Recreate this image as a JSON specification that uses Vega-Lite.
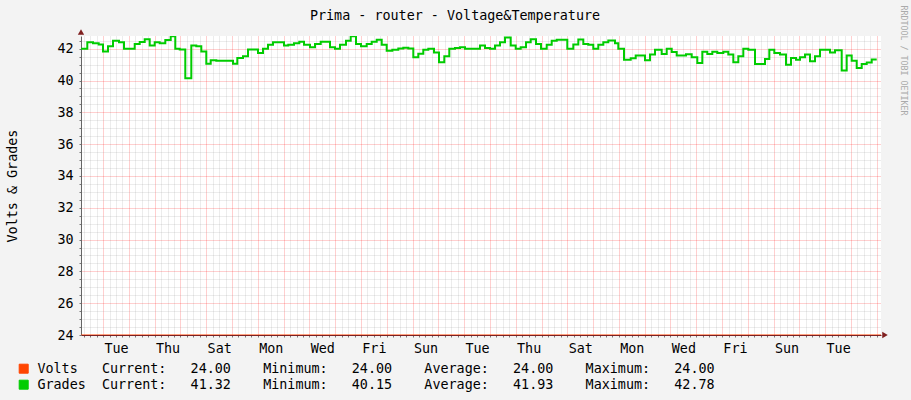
{
  "$schema": "https://vega.github.io/schema/vega-lite/v6.json",
  "width": 800,
  "height": 299,
  "autosize": {"type": "none"},
  "padding": {"left": 81, "top": 36, "right": 30, "bottom": 65},
  "background": "#F3F3F3",
  "title": {
    "text": "Prima - router - Voltage&Temperature",
    "anchor": "middle",
    "frame": "group",
    "dx": -26,
    "dy": 28,
    "baseline": "alphabetic",
    "offset": 0,
    "font": "DejaVu Sans Mono",
    "fontSize": 13.4,
    "fontWeight": "normal",
    "color": "#000000"
  },
  "config": {
    "view": {"fill": "white", "stroke": null},
    "axis": {
      "labelFont": "DejaVu Sans Mono",
      "labelFontSize": 13.4,
      "labelColor": "#000000",
      "titleFont": "DejaVu Sans Mono",
      "titleFontSize": 13.4,
      "titleFontWeight": "normal",
      "titleColor": "#000000"
    }
  },
  "datasets": {
    "volts": [
      {"time": "2024-01-01T03:26", "value": 24.0, "series": "Volts"},
      {"time": "2024-02-01T03:54", "value": 24.0, "series": "Volts"}
    ],
    "grades": [
      {"time": "2024-01-01T03:26", "value": 42.0, "series": "Grades"},
      {"time": "2024-01-01T09:18", "value": 42.4, "series": "Grades"},
      {"time": "2024-01-01T14:36", "value": 42.35, "series": "Grades"},
      {"time": "2024-01-01T19:54", "value": 42.27, "series": "Grades"},
      {"time": "2024-01-01T23:54", "value": 41.83, "series": "Grades"},
      {"time": "2024-01-02T04:34", "value": 42.15, "series": "Grades"},
      {"time": "2024-01-02T09:13", "value": 42.5, "series": "Grades"},
      {"time": "2024-01-02T14:48", "value": 42.4, "series": "Grades"},
      {"time": "2024-01-02T19:27", "value": 42.0, "series": "Grades"},
      {"time": "2024-01-03T05:25", "value": 42.3, "series": "Grades"},
      {"time": "2024-01-03T10:04", "value": 42.42, "series": "Grades"},
      {"time": "2024-01-03T14:43", "value": 42.6, "series": "Grades"},
      {"time": "2024-01-03T19:22", "value": 42.2, "series": "Grades"},
      {"time": "2024-01-04T00:01", "value": 42.4, "series": "Grades"},
      {"time": "2024-01-04T04:40", "value": 42.35, "series": "Grades"},
      {"time": "2024-01-04T09:53", "value": 42.55, "series": "Grades"},
      {"time": "2024-01-04T14:55", "value": 42.78, "series": "Grades"},
      {"time": "2024-01-04T19:11", "value": 42.0, "series": "Grades"},
      {"time": "2024-01-04T23:17", "value": 41.95, "series": "Grades"},
      {"time": "2024-01-05T04:29", "value": 40.15, "series": "Grades"},
      {"time": "2024-01-05T10:05", "value": 42.2, "series": "Grades"},
      {"time": "2024-01-05T14:44", "value": 42.15, "series": "Grades"},
      {"time": "2024-01-05T19:23", "value": 41.83, "series": "Grades"},
      {"time": "2024-01-06T00:02", "value": 41.05, "series": "Grades"},
      {"time": "2024-01-06T04:08", "value": 41.27, "series": "Grades"},
      {"time": "2024-01-06T09:20", "value": 41.25, "series": "Grades"},
      {"time": "2024-01-07T00:53", "value": 41.05, "series": "Grades"},
      {"time": "2024-01-07T04:53", "value": 41.42, "series": "Grades"},
      {"time": "2024-01-07T10:11", "value": 41.52, "series": "Grades"},
      {"time": "2024-01-07T14:50", "value": 41.95, "series": "Grades"},
      {"time": "2024-01-08T00:09", "value": 41.73, "series": "Grades"},
      {"time": "2024-01-08T04:48", "value": 42.0, "series": "Grades"},
      {"time": "2024-01-08T09:27", "value": 42.25, "series": "Grades"},
      {"time": "2024-01-08T14:07", "value": 42.4, "series": "Grades"},
      {"time": "2024-01-09T00:20", "value": 42.2, "series": "Grades"},
      {"time": "2024-01-09T04:20", "value": 42.25, "series": "Grades"},
      {"time": "2024-01-09T09:39", "value": 42.35, "series": "Grades"},
      {"time": "2024-01-09T14:35", "value": 42.44, "series": "Grades"},
      {"time": "2024-01-09T18:58", "value": 42.25, "series": "Grades"},
      {"time": "2024-01-10T00:32", "value": 42.1, "series": "Grades"},
      {"time": "2024-01-10T05:11", "value": 42.3, "series": "Grades"},
      {"time": "2024-01-10T10:30", "value": 42.44, "series": "Grades"},
      {"time": "2024-01-10T19:09", "value": 42.1, "series": "Grades"},
      {"time": "2024-01-10T23:48", "value": 42.0, "series": "Grades"},
      {"time": "2024-01-11T04:28", "value": 42.25, "series": "Grades"},
      {"time": "2024-01-11T10:02", "value": 42.5, "series": "Grades"},
      {"time": "2024-01-11T14:25", "value": 42.78, "series": "Grades"},
      {"time": "2024-01-11T19:20", "value": 42.3, "series": "Grades"},
      {"time": "2024-01-11T23:59", "value": 42.15, "series": "Grades"},
      {"time": "2024-01-12T05:18", "value": 42.3, "series": "Grades"},
      {"time": "2024-01-12T09:57", "value": 42.44, "series": "Grades"},
      {"time": "2024-01-12T14:37", "value": 42.56, "series": "Grades"},
      {"time": "2024-01-12T19:16", "value": 42.25, "series": "Grades"},
      {"time": "2024-01-12T23:55", "value": 41.88, "series": "Grades"},
      {"time": "2024-01-13T05:08", "value": 41.94, "series": "Grades"},
      {"time": "2024-01-13T10:43", "value": 42.02, "series": "Grades"},
      {"time": "2024-01-13T15:22", "value": 42.06, "series": "Grades"},
      {"time": "2024-01-13T20:01", "value": 42.02, "series": "Grades"},
      {"time": "2024-01-14T00:40", "value": 41.46, "series": "Grades"},
      {"time": "2024-01-14T05:19", "value": 41.69, "series": "Grades"},
      {"time": "2024-01-14T09:58", "value": 41.94, "series": "Grades"},
      {"time": "2024-01-14T14:38", "value": 42.0, "series": "Grades"},
      {"time": "2024-01-14T19:56", "value": 41.77, "series": "Grades"},
      {"time": "2024-01-15T00:35", "value": 41.15, "series": "Grades"},
      {"time": "2024-01-15T05:31", "value": 41.52, "series": "Grades"},
      {"time": "2024-01-15T10:10", "value": 42.0, "series": "Grades"},
      {"time": "2024-01-15T15:28", "value": 42.04, "series": "Grades"},
      {"time": "2024-01-15T20:08", "value": 42.1, "series": "Grades"},
      {"time": "2024-01-16T00:47", "value": 42.0, "series": "Grades"},
      {"time": "2024-01-16T14:44", "value": 42.2, "series": "Grades"},
      {"time": "2024-01-16T19:23", "value": 42.04, "series": "Grades"},
      {"time": "2024-01-17T00:02", "value": 42.0, "series": "Grades"},
      {"time": "2024-01-17T04:42", "value": 42.2, "series": "Grades"},
      {"time": "2024-01-17T09:21", "value": 42.4, "series": "Grades"},
      {"time": "2024-01-17T14:00", "value": 42.7, "series": "Grades"},
      {"time": "2024-01-17T19:19", "value": 42.2, "series": "Grades"},
      {"time": "2024-01-17T23:58", "value": 42.0, "series": "Grades"},
      {"time": "2024-01-18T04:37", "value": 42.1, "series": "Grades"},
      {"time": "2024-01-18T09:33", "value": 42.4, "series": "Grades"},
      {"time": "2024-01-18T13:55", "value": 42.6, "series": "Grades"},
      {"time": "2024-01-18T18:51", "value": 42.3, "series": "Grades"},
      {"time": "2024-01-18T23:30", "value": 42.0, "series": "Grades"},
      {"time": "2024-01-19T04:49", "value": 42.25, "series": "Grades"},
      {"time": "2024-01-19T09:28", "value": 42.5, "series": "Grades"},
      {"time": "2024-01-19T14:07", "value": 42.56, "series": "Grades"},
      {"time": "2024-01-19T23:59", "value": 42.0, "series": "Grades"},
      {"time": "2024-01-20T05:34", "value": 42.27, "series": "Grades"},
      {"time": "2024-01-20T10:13", "value": 42.58, "series": "Grades"},
      {"time": "2024-01-20T14:52", "value": 42.3, "series": "Grades"},
      {"time": "2024-01-20T19:31", "value": 42.25, "series": "Grades"},
      {"time": "2024-01-21T00:10", "value": 42.0, "series": "Grades"},
      {"time": "2024-01-21T04:50", "value": 42.25, "series": "Grades"},
      {"time": "2024-01-21T09:29", "value": 42.4, "series": "Grades"},
      {"time": "2024-01-21T14:08", "value": 42.52, "series": "Grades"},
      {"time": "2024-01-21T20:22", "value": 42.35, "series": "Grades"},
      {"time": "2024-01-21T23:26", "value": 42.0, "series": "Grades"},
      {"time": "2024-01-22T04:44", "value": 41.31, "series": "Grades"},
      {"time": "2024-01-22T10:59", "value": 41.4, "series": "Grades"},
      {"time": "2024-01-22T15:38", "value": 41.58, "series": "Grades"},
      {"time": "2024-01-23T00:17", "value": 41.27, "series": "Grades"},
      {"time": "2024-01-23T04:56", "value": 41.63, "series": "Grades"},
      {"time": "2024-01-23T09:35", "value": 41.94, "series": "Grades"},
      {"time": "2024-01-23T15:49", "value": 41.67, "series": "Grades"},
      {"time": "2024-01-23T20:29", "value": 42.0, "series": "Grades"},
      {"time": "2024-01-24T01:08", "value": 41.79, "series": "Grades"},
      {"time": "2024-01-24T05:47", "value": 41.58, "series": "Grades"},
      {"time": "2024-01-24T14:26", "value": 41.65, "series": "Grades"},
      {"time": "2024-01-24T19:44", "value": 41.46, "series": "Grades"},
      {"time": "2024-01-25T00:57", "value": 41.1, "series": "Grades"},
      {"time": "2024-01-25T05:37", "value": 41.81, "series": "Grades"},
      {"time": "2024-01-25T10:16", "value": 41.67, "series": "Grades"},
      {"time": "2024-01-25T14:55", "value": 41.81, "series": "Grades"},
      {"time": "2024-01-25T19:34", "value": 41.73, "series": "Grades"},
      {"time": "2024-01-26T01:09", "value": 41.81, "series": "Grades"},
      {"time": "2024-01-26T05:48", "value": 41.63, "series": "Grades"},
      {"time": "2024-01-26T10:28", "value": 41.15, "series": "Grades"},
      {"time": "2024-01-26T15:07", "value": 41.52, "series": "Grades"},
      {"time": "2024-01-26T19:46", "value": 42.0, "series": "Grades"},
      {"time": "2024-01-27T00:25", "value": 41.94, "series": "Grades"},
      {"time": "2024-01-27T06:39", "value": 41.04, "series": "Grades"},
      {"time": "2024-01-27T15:58", "value": 41.35, "series": "Grades"},
      {"time": "2024-01-27T19:58", "value": 41.94, "series": "Grades"},
      {"time": "2024-01-28T00:37", "value": 41.73, "series": "Grades"},
      {"time": "2024-01-28T05:55", "value": 41.63, "series": "Grades"},
      {"time": "2024-01-28T11:30", "value": 41.0, "series": "Grades"},
      {"time": "2024-01-28T16:10", "value": 41.42, "series": "Grades"},
      {"time": "2024-01-28T20:49", "value": 41.31, "series": "Grades"},
      {"time": "2024-01-29T00:32", "value": 41.46, "series": "Grades"},
      {"time": "2024-01-29T05:11", "value": 41.63, "series": "Grades"},
      {"time": "2024-01-29T09:50", "value": 41.21, "series": "Grades"},
      {"time": "2024-01-29T14:29", "value": 41.52, "series": "Grades"},
      {"time": "2024-01-29T19:08", "value": 41.94, "series": "Grades"},
      {"time": "2024-01-30T04:27", "value": 41.77, "series": "Grades"},
      {"time": "2024-01-30T09:06", "value": 41.9, "series": "Grades"},
      {"time": "2024-01-30T15:20", "value": 40.63, "series": "Grades"},
      {"time": "2024-01-30T19:59", "value": 41.58, "series": "Grades"},
      {"time": "2024-01-31T00:38", "value": 41.25, "series": "Grades"},
      {"time": "2024-01-31T05:18", "value": 40.79, "series": "Grades"},
      {"time": "2024-01-31T09:57", "value": 41.04, "series": "Grades"},
      {"time": "2024-01-31T14:36", "value": 41.13, "series": "Grades"},
      {"time": "2024-01-31T19:16", "value": 41.32, "series": "Grades"},
      {"time": "2024-01-31T23:55", "value": 41.32, "series": "Grades"}
    ],
    "ends": [
      {"time": "2024-01-01T03:26", "value": 42.8, "arrow": "up"},
      {"time": "2024-02-01T03:54", "value": 24.0, "arrow": "right"}
    ]
  },
  "layer": [
    {
      "data": {"name": "volts"},
      "mark": {"type": "line", "interpolate": "step-after", "strokeWidth": 1, "clip": true},
      "encoding": {
        "x": {"field": "time", "type": "temporal",
          "scale": {"domain": [{"year": 2024, "month": 1, "date": 1, "hours": 3, "minutes": 26}, {"year": 2024, "month": 2, "date": 1, "hours": 3, "minutes": 54}], "nice": false}},
        "y": {"field": "value", "type": "quantitative",
          "scale": {"domain": [24, 42.8], "nice": false, "zero": false}},
        "color": {"field": "series", "type": "nominal"}
      }
    },
    {
      "data": {"name": "grades"},
      "mark": {"type": "line", "interpolate": "step-after", "strokeWidth": 2, "clip": true},
      "encoding": {
        "x": {"field": "time", "type": "temporal",
          "axis": {
            "orient": "bottom",
            "title": "RRDTOOL / TOBI OETIKER",
            "titleFont": "DejaVu Sans Mono", "titleFontSize": 8.3, "titleFontWeight": "normal", "titleColor": "#AAAAAA",
            "titleAngle": 90, "titleAlign": "left", "titleBaseline": "alphabetic", "titleX": 819, "titleY": -330,
            "tickCount": 124,
            "grid": true,
            "gridColor": {"condition": {"test": "hours(datum.value) == 0", "value": "#FF0000"}, "value": "#8F8F8F"},
            "gridOpacity": {"condition": {"test": "hours(datum.value) == 0", "value": 0.38}, "value": 0.35},
            "gridDash": [1, 1],
            "ticks": true, "tickSize": 2, "tickColor": "#777777",
            "domain": true, "domainColor": "#7F1F1F", "domainWidth": 1,
            "labelExpr": "hours(datum.value) == 12 && date(datum.value) % 2 == 0 ? timeFormat(datum.value, '%a') : ''",
            "labelOverlap": false, "labelBound": false, "labelFlush": false,
            "labelPadding": 4, "labelAngle": 0, "labelAlign": "center"
          }},
        "y": {"field": "value", "type": "quantitative",
          "axis": {
            "orient": "left", "title": "Volts & Grades",
            "titleAngle": -90, "titleBaseline": "alphabetic", "titleX": -65, "titleY": 149.5, "titleAlign": "center",
            "values": [24, 24.5, 25, 25.5, 26, 26.5, 27, 27.5, 28, 28.5, 29, 29.5, 30, 30.5, 31, 31.5, 32, 32.5, 33, 33.5, 34, 34.5, 35, 35.5, 36, 36.5, 37, 37.5, 38, 38.5, 39, 39.5, 40, 40.5, 41, 41.5, 42, 42.5],
            "tickCount": 200,
            "grid": true,
            "gridColor": {"condition": {"test": "datum.value % 2 == 0", "value": "#FF0000"}, "value": "#8F8F8F"},
            "gridOpacity": {"condition": {"test": "datum.value % 2 == 0", "value": 0.38}, "value": 0.35},
            "gridDash": [1, 1],
            "ticks": true, "tickSize": 2, "tickColor": "#777777",
            "domain": true, "domainColor": "#666666", "domainWidth": 1,
            "labelExpr": "datum.value % 2 == 0 ? format(datum.value, 'd') : ''",
            "labelOverlap": false, "labelPadding": 6
          }},
        "color": {"field": "series", "type": "nominal", "scale": {"domain": ["Volts", "Grades"], "range": ["#FF4500", "#00CC00"]},
          "legend": {
            "orient": "none", "legendX": -64, "legendY": 326, "padding": 0, "title": null,
            "symbolType": "square", "symbolSize": 81, "symbolStrokeWidth": 1, "symbolStrokeColor": "#000000",
            "labelFont": "DejaVu Sans Mono", "labelFontSize": 13.4, "labelColor": "#000000", "labelLimit": 1000, "labelOffset": 7, "rowPadding": 1,
            "labelExpr": "datum.label == 'Volts' ? 'Volts\u00a0\u00a0\u00a0Current:\u00a0\u00a0\u00a024.00\u00a0\u00a0\u00a0\u00a0Minimum:\u00a0\u00a0\u00a024.00\u00a0\u00a0\u00a0\u00a0Average:\u00a0\u00a0\u00a024.00\u00a0\u00a0\u00a0\u00a0Maximum:\u00a0\u00a0\u00a024.00' : 'Grades\u00a0\u00a0Current:\u00a0\u00a0\u00a041.32\u00a0\u00a0\u00a0\u00a0Minimum:\u00a0\u00a0\u00a040.15\u00a0\u00a0\u00a0\u00a0Average:\u00a0\u00a0\u00a041.93\u00a0\u00a0\u00a0\u00a0Maximum:\u00a0\u00a0\u00a042.78'",
            "encode": {"symbols": {"update": {"fill": {"scale": "color", "field": "value"}, "stroke": {"value": "#000000"}, "strokeWidth": {"value": 1}, "opacity": {"value": 1}, "fillOpacity": {"value": 1}}}}
          }}
      }
    },
    {
      "data": {"name": "ends"},
      "transform": [{"filter": "datum.arrow == 'up'"}],
      "mark": {"type": "point", "shape": "triangle-up", "filled": true, "color": "#7F1F1F", "size": 40, "opacity": 1, "yOffset": -4, "clip": false},
      "encoding": {
        "x": {"field": "time", "type": "temporal"},
        "y": {"field": "value", "type": "quantitative"}
      }
    },
    {
      "data": {"name": "ends"},
      "transform": [{"filter": "datum.arrow == 'right'"}],
      "mark": {"type": "point", "shape": "triangle-right", "filled": true, "color": "#7F1F1F", "size": 40, "opacity": 1, "xOffset": 4, "clip": false},
      "encoding": {
        "x": {"field": "time", "type": "temporal"},
        "y": {"field": "value", "type": "quantitative"}
      }
    }
  ]
}
